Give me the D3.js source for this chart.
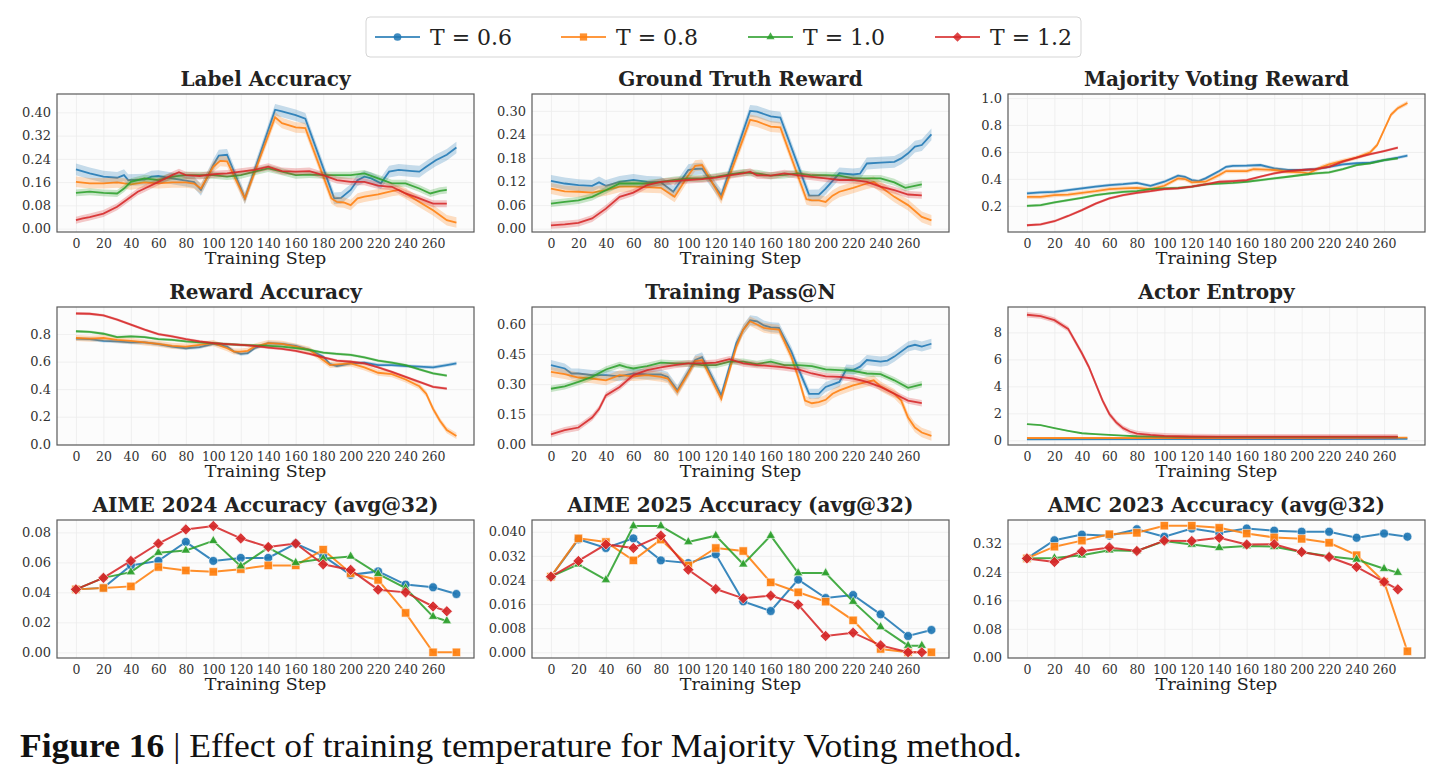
<!DOCTYPE html>
<html>
<head>
<meta charset="utf-8">
<script src="https://cdn.jsdelivr.net/npm/d3@7"></script>
<style>
  body { margin: 0; background: #fff; }
  text { font-family: "DejaVu Serif", serif; }
</style>
</head>
<body>
<div id="chart"></div>
<script>
// ---- data ----
const TEMPS = ["T = 0.6", "T = 0.8", "T = 1.0", "T = 1.2"];
const COLORS = ["#1f77b4", "#ff7f0e", "#2ca02c", "#d62728"];
const X_TICKS = [0, 20, 40, 60, 80, 100, 120, 140, 160, 180, 200, 220, 240, 260];

// training curves: [step, value]
const LABEL_ACC = [
  [[0,.204],[10,.19],[20,.179],[30,.175],[35,.184],[38,.167],[50,.169],[55,.179],[60,.181],[70,.173],[80,.165],[86,.16],[91,.133],[100,.219],[104,.251],[110,.254],[123,.104],[145,.409],[150,.403],[160,.39],[167,.378],[188,.104],[193,.106],[200,.133],[205,.167],[210,.179],[215,.173],[222,.156],[228,.196],[235,.202],[245,.198],[250,.196],[255,.213],[262,.235],[270,.254],[277,.279]],
  [[0,.161],[10,.156],[20,.156],[30,.159],[40,.152],[50,.159],[60,.156],[70,.159],[80,.159],[86,.155],[91,.138],[100,.213],[105,.233],[110,.231],[123,.104],[145,.383],[150,.363],[160,.348],[167,.346],[186,.104],[190,.092],[195,.09],[200,.081],[205,.104],[210,.11],[220,.118],[230,.129],[235,.133],[240,.121],[250,.092],[260,.063],[270,.029],[277,.021]],
  [[0,.123],[10,.127],[20,.123],[30,.121],[35,.138],[40,.161],[50,.173],[60,.167],[70,.179],[80,.184],[100,.184],[110,.179],[120,.184],[130,.196],[140,.207],[150,.196],[160,.184],[170,.186],[180,.184],[200,.184],[210,.19],[220,.173],[230,.156],[240,.156],[250,.138],[258,.121],[265,.13],[270,.133]],
  [[0,.029],[5,.035],[10,.04],[20,.052],[30,.075],[40,.11],[45,.127],[50,.138],[60,.161],[70,.184],[75,.194],[80,.184],[90,.181],[100,.187],[110,.19],[120,.196],[130,.202],[140,.213],[150,.198],[160,.196],[170,.198],[180,.184],[190,.167],[200,.161],[210,.161],[220,.148],[230,.144],[240,.121],[250,.104],[260,.086],[270,.086]]
];
const GT_REWARD = [
  [[0,.122],[10,.115],[20,.111],[30,.109],[35,.118],[40,.109],[50,.119],[60,.124],[70,.119],[80,.118],[89,.094],[100,.149],[105,.152],[110,.153],[124,.085],[145,.30],[150,.298],[160,.286],[167,.283],[188,.084],[195,.085],[200,.102],[210,.141],[220,.138],[225,.14],[230,.166],[240,.168],[250,.17],[255,.179],[260,.192],[265,.209],[270,.213],[277,.24]],
  [[0,.102],[10,.095],[20,.094],[30,.092],[40,.098],[50,.107],[60,.107],[80,.104],[90,.081],[100,.136],[105,.16],[110,.162],[124,.077],[145,.277],[150,.273],[160,.26],[167,.258],[186,.075],[190,.072],[195,.072],[200,.068],[205,.084],[210,.094],[220,.104],[230,.115],[235,.119],[240,.107],[250,.081],[260,.06],[270,.03],[277,.021]],
  [[0,.064],[10,.068],[20,.072],[30,.081],[40,.098],[50,.115],[70,.115],[80,.119],[90,.124],[100,.128],[110,.128],[120,.132],[130,.138],[140,.143],[150,.141],[160,.135],[170,.137],[180,.141],[190,.136],[200,.136],[210,.135],[220,.128],[240,.128],[250,.118],[258,.104],[270,.113]],
  [[0,.0085],[10,.011],[20,.0145],[30,.026],[40,.051],[50,.081],[60,.092],[70,.111],[80,.119],[90,.121],[100,.124],[110,.126],[120,.13],[130,.136],[140,.141],[145,.145],[150,.136],[160,.135],[170,.141],[180,.136],[190,.132],[200,.128],[210,.124],[220,.124],[230,.119],[240,.107],[250,.098],[260,.087],[270,.085]]
];
const MV_REWARD = [
  [[0,.292],[10,.30],[20,.304],[30,.317],[40,.329],[50,.342],[60,.354],[70,.361],[80,.371],[90,.349],[100,.379],[110,.424],[115,.416],[120,.391],[125,.384],[130,.404],[140,.458],[145,.49],[150,.496],[160,.498],[170,.503],[180,.478],[190,.466],[200,.466],[210,.473],[220,.49],[230,.508],[240,.516],[250,.52],[260,.54],[270,.558],[277,.573]],
  [[0,.267],[10,.267],[20,.28],[30,.284],[40,.297],[50,.309],[60,.324],[70,.329],[80,.334],[90,.324],[100,.349],[110,.404],[115,.399],[120,.374],[130,.379],[140,.429],[145,.458],[160,.458],[165,.473],[170,.47],[180,.466],[190,.453],[200,.448],[205,.441],[215,.49],[220,.508],[230,.533],[240,.558],[250,.598],[255,.652],[260,.764],[265,.876],[270,.925],[277,.963]],
  [[0,.20],[10,.205],[20,.225],[30,.242],[40,.26],[50,.28],[60,.292],[70,.304],[80,.309],[90,.324],[100,.329],[110,.334],[120,.342],[130,.359],[140,.366],[150,.371],[160,.379],[170,.391],[180,.404],[190,.416],[200,.429],[210,.441],[220,.448],[230,.473],[240,.503],[250,.516],[260,.54],[270,.553]],
  [[0,.056],[10,.063],[20,.086],[30,.125],[40,.168],[50,.217],[60,.255],[70,.28],[80,.297],[90,.309],[100,.324],[110,.329],[120,.342],[130,.359],[140,.379],[150,.384],[160,.391],[170,.416],[180,.441],[190,.458],[200,.466],[210,.473],[220,.49],[230,.528],[240,.558],[250,.583],[260,.607],[270,.632]]
];
const REWARD_ACC = [
  [[0,.766],[10,.763],[20,.751],[30,.746],[40,.739],[50,.739],[60,.727],[70,.709],[80,.697],[90,.705],[100,.729],[110,.709],[115,.673],[120,.656],[125,.661],[130,.697],[140,.734],[150,.729],[160,.714],[170,.685],[180,.636],[185,.582],[190,.568],[200,.587],[210,.592],[220,.575],[230,.575],[240,.568],[250,.563],[260,.558],[270,.575],[277,.587]],
  [[0,.771],[10,.766],[20,.771],[30,.758],[40,.751],[50,.739],[60,.729],[70,.714],[80,.709],[90,.722],[100,.734],[110,.697],[115,.673],[120,.673],[125,.678],[130,.709],[140,.734],[150,.729],[160,.709],[170,.685],[180,.612],[185,.575],[190,.58],[200,.587],[210,.558],[220,.519],[230,.509],[240,.47],[250,.421],[255,.367],[260,.257],[265,.171],[270,.103],[277,.061]],
  [[0,.82],[10,.815],[20,.802],[30,.778],[40,.783],[50,.778],[60,.763],[70,.758],[80,.746],[90,.739],[100,.734],[110,.727],[120,.722],[130,.717],[140,.714],[150,.709],[160,.697],[170,.685],[180,.665],[190,.656],[200,.648],[210,.631],[220,.607],[230,.592],[240,.575],[250,.543],[260,.514],[270,.499]],
  [[0,.949],[10,.947],[20,.935],[30,.905],[40,.868],[50,.832],[60,.80],[70,.783],[80,.763],[90,.746],[100,.734],[110,.727],[120,.722],[130,.714],[140,.702],[150,.692],[160,.678],[170,.656],[180,.631],[190,.607],[200,.599],[210,.587],[220,.558],[230,.526],[240,.489],[250,.453],[260,.416],[270,.404]]
];
const PASS_AT_N = [
  [[0,.395],[10,.378],[15,.353],[20,.353],[30,.345],[40,.345],[50,.339],[60,.353],[70,.348],[80,.348],[85,.336],[92,.269],[100,.361],[105,.42],[110,.434],[124,.244],[135,.504],[140,.571],[145,.618],[150,.613],[155,.592],[160,.583],[166,.58],[175,.462],[180,.378],[188,.252],[195,.252],[200,.286],[210,.311],[215,.373],[220,.37],[225,.387],[230,.42],[240,.412],[245,.417],[250,.437],[260,.487],[265,.496],[270,.487],[277,.501]],
  [[0,.361],[10,.35],[20,.333],[30,.328],[40,.319],[50,.345],[60,.339],[70,.345],[80,.336],[85,.328],[92,.261],[100,.353],[105,.415],[110,.42],[124,.227],[135,.487],[140,.571],[145,.613],[150,.597],[155,.58],[160,.575],[166,.571],[175,.437],[180,.336],[185,.218],[190,.205],[195,.21],[200,.222],[205,.252],[210,.269],[220,.294],[230,.311],[235,.319],[240,.289],[250,.252],[255,.218],[260,.134],[265,.084],[270,.059],[277,.042]],
  [[0,.277],[10,.289],[20,.311],[30,.336],[40,.373],[50,.395],[55,.385],[60,.378],[70,.39],[80,.407],[90,.403],[100,.403],[110,.395],[120,.395],[130,.412],[140,.412],[150,.40],[160,.412],[170,.395],[180,.395],[190,.39],[200,.373],[210,.37],[220,.366],[230,.353],[240,.35],[250,.319],[260,.282],[270,.299]],
  [[0,.05],[10,.071],[20,.084],[30,.134],[35,.176],[40,.244],[50,.286],[60,.345],[70,.37],[80,.383],[90,.395],[100,.403],[110,.403],[120,.407],[130,.424],[140,.403],[150,.395],[160,.39],[170,.383],[180,.373],[190,.353],[200,.339],[210,.336],[220,.328],[230,.311],[240,.286],[250,.252],[260,.218],[270,.205]]
];
const ACTOR_ENTROPY = [
  [[0,.07],[100,.08],[200,.09],[277,.1]],
  [[0,.17],[100,.17],[200,.18],[277,.2]],
  [[0,1.2],[10,1.12],[20,.9],[30,.7],[40,.52],[50,.45],[60,.4],[70,.35],[80,.3],[100,.27],[120,.25],[270,.25]],
  [[0,9.3],[10,9.2],[20,8.9],[30,8.25],[40,6.45],[45,5.45],[50,4.2],[55,2.95],[60,1.95],[65,1.33],[70,.9],[75,.65],[80,.5],[90,.4],[100,.33],[110,.3],[120,.28],[140,.27],[270,.27]]
];

// evaluation points
const EVAL_STEPS_LONG = [0, 20, 40, 60, 80, 100, 120, 140, 160, 180, 200, 220, 240, 260, 277];
const EVAL_STEPS_SHORT = [0, 20, 40, 60, 80, 100, 120, 140, 160, 180, 200, 220, 240, 260, 270];
const AIME24 = [
  [.042,.043,.058,.061,.0737,.061,.063,.063,.0726,.0643,.0517,.054,.0452,.0434,.0389],
  [.042,.0429,.044,.0569,.0546,.0537,.0555,.058,.058,.0685,.0528,.0483,.0263,0,0],
  [.042,.0497,.0535,.0665,.068,.0744,.0575,.0699,.0598,.0625,.064,.0524,.0429,.0238,.0209],
  [.042,.0497,.061,.0726,.082,.0843,.076,.0703,.0726,.0587,.055,.0418,.04,.0306,.0274]
];
const AIME25 = [
  [.0251,.0375,.0346,.0378,.0305,.0296,.0325,.0169,.0137,.0241,.018,.019,.0126,.0054,.0074],
  [.0251,.0378,.0366,.0305,.0374,.0288,.0346,.0336,.0232,.0199,.0168,.0106,.0011,0,0],
  [.0251,.0292,.024,.0419,.0419,.0366,.0387,.0292,.0387,.0263,.0263,.0168,.0084,.0022,.0022],
  [.0251,.0303,.0358,.0346,.0387,.0274,.021,.0179,.0188,.0158,.0054,.0065,.0023,0,0]
];
const AMC23 = [
  [.278,.329,.345,.342,.36,.339,.362,.35,.362,.356,.353,.353,.336,.348,.339],
  [.278,.311,.328,.346,.35,.37,.37,.364,.348,.337,.333,.322,.287,.212,.017],
  [.278,.279,.287,.301,.299,.327,.317,.308,.313,.311,.296,.284,.275,.249,.238],
  [.278,.268,.298,.309,.299,.328,.327,.336,.317,.318,.296,.282,.254,.212,.191]
];

const TICKS_LABEL = [0, .08, .16, .24, .32, .40];
const TICKS_GT = [0, .06, .12, .18, .24, .30];
const TICKS_MV = [.2, .4, .6, .8, 1.0];
const TICKS_RA = [0, .2, .4, .6, .8];
const TICKS_PASS = [0, .15, .30, .45, .60];
const TICKS_ENT = [0, 2, 4, 6, 8];
const TICKS_A24 = [0, .02, .04, .06, .08];
const TICKS_A25 = [0, .008, .016, .024, .032, .040];
const TICKS_AMC = [0, .08, .16, .24, .32];

// ---- layout ----
const width = 1446, height = 780;
const COL_X = [57, 532, 1008], ROW_Y = [94, 307, 520];
const PW = 417, PH = 138;

const svg = d3.select("#chart").append("svg")
  .attr("width", width).attr("height", height)
  .style("background", "#fff");

const toPts = (steps, vals) => vals.map((v, i) => [steps[i], v]);
const evalSeries = arr => arr.map((vals, i) =>
  toPts(i < 2 ? EVAL_STEPS_LONG : EVAL_STEPS_SHORT, vals));

const panels = [
  { title: "Label Accuracy", series: LABEL_ACC, ticks: TICKS_LABEL, fmt: ".2f", yd: [-0.0115, 0.463], band: [.02, .018, .012, .012] },
  { title: "Ground Truth Reward", series: GT_REWARD, ticks: TICKS_GT, fmt: ".2f", yd: [-0.0085, 0.343], band: [.015, .014, .009, .009] },
  { title: "Majority Voting Reward", series: MV_REWARD, ticks: TICKS_MV, fmt: ".1f", yd: [0.006, 1.03], band: [.012, .016, .01, .01] },
  { title: "Reward Accuracy", series: REWARD_ACC, ticks: TICKS_RA, fmt: ".1f", yd: [-0.005, 0.996], band: [.013, .022, .01, .01] },
  { title: "Training Pass@N", series: PASS_AT_N, ticks: TICKS_PASS, fmt: ".2f", yd: [-0.003, 0.684], band: [.025, .024, .016, .016] },
  { title: "Actor Entropy", series: ACTOR_ENTROPY, ticks: TICKS_ENT, fmt: "d", yd: [-0.35, 9.875], band: [.03, .03, .05, .2] },
  { title: "AIME 2024 Accuracy (avg@32)", series: evalSeries(AIME24), ticks: TICKS_A24, fmt: ".2f", yd: [-0.0038, 0.0883], marker: true },
  { title: "AIME 2025 Accuracy (avg@32)", series: evalSeries(AIME25), ticks: TICKS_A25, fmt: ".3f", yd: [-0.0019, 0.0439], marker: true },
  { title: "AMC 2023 Accuracy (avg@32)", series: evalSeries(AMC23), ticks: TICKS_AMC, fmt: ".2f", yd: [-0.002, 0.386], marker: true }
];

const SYMBOLS = [d3.symbolCircle, d3.symbolSquare, d3.symbolTriangle, d3.symbolSquare];
const SYM_SIZE = [62, 70, 38, 62];
const SYM_ROT = [0, 0, 0, 45];

function drawPanel(p, idx) {
  const col = idx % 3, row = Math.floor(idx / 3);
  const g = svg.append("g")
    .attr("transform", `translate(${COL_X[col]},${ROW_Y[row]})`);

  const x = d3.scaleLinear().domain([-13.8, 289.8]).range([0, PW]);
  const y = d3.scaleLinear().domain(p.yd).range([PH, 0]);

  g.append("rect").attr("width", PW).attr("height", PH).attr("fill", "#fcfcfc");

  // grid
  g.append("g").attr("class", "grid")
    .attr("transform", `translate(0,${PH})`)
    .call(d3.axisBottom(x).tickValues(X_TICKS).tickSize(-PH).tickFormat(""));
  g.append("g").attr("class", "grid")
    .call(d3.axisLeft(y).tickValues(p.ticks).tickSize(-PW).tickFormat(""));
  g.selectAll(".grid .domain").remove();
  g.selectAll(".grid line").attr("stroke", "#ececec").attr("stroke-width", 0.8);

  // axes labels
  const xa = g.append("g")
    .attr("transform", `translate(0,${PH})`)
    .call(d3.axisBottom(x).tickValues(X_TICKS).tickSize(0).tickPadding(7));
  const ya = g.append("g")
    .call(d3.axisLeft(y).tickValues(p.ticks).tickSize(0).tickPadding(6).tickFormat(d3.format(p.fmt)));
  xa.select(".domain").remove();
  ya.select(".domain").remove();
  xa.selectAll("text")
    .style("font-family", "DejaVu Serif")
    .style("font-size", "12.5px")
    .attr("fill", "#333");
  ya.selectAll("text")
    .style("font-family", "DejaVu Serif")
    .style("font-size", "13px")
    .attr("fill", "#333");

  const line = d3.line().x(d => x(d[0])).y(d => y(d[1]));

  p.series.forEach((s, i) => {
    if (!p.marker) {
      const w = p.band[i];
      g.append("path")
        .datum(s)
        .attr("d", d3.area().x(d => x(d[0])).y0(d => y(d[1] - w)).y1(d => y(d[1] + w)))
        .attr("fill", COLORS[i])
        .attr("opacity", 0.25);
    }
    g.append("path")
      .datum(s)
      .attr("d", line)
      .attr("fill", "none")
      .attr("stroke", COLORS[i])
      .attr("stroke-width", p.marker ? 2 : 1.8)
      .attr("opacity", 0.88);
    if (p.marker) {
      g.selectAll(null)
        .data(s)
        .enter()
        .append("path")
        .attr("d", d3.symbol().type(SYMBOLS[i]).size(SYM_SIZE[i]))
        .attr("transform", d => `translate(${x(d[0])},${y(d[1])}) rotate(${SYM_ROT[i]})`)
        .attr("fill", COLORS[i])
        .attr("stroke", "#fff")
        .attr("stroke-width", 0.6)
        .attr("opacity", 0.92);
    }
  });

  g.append("rect")
    .attr("width", PW).attr("height", PH)
    .attr("fill", "none")
    .attr("stroke", "#5a5a5a")
    .attr("stroke-width", 1.2);

  g.append("text")
    .attr("x", PW / 2).attr("y", -8)
    .attr("text-anchor", "middle")
    .style("font-size", "20px")
    .style("font-weight", "bold")
    .attr("fill", "#222")
    .text(p.title);

  g.append("text")
    .attr("x", PW / 2).attr("y", PH + 32)
    .attr("text-anchor", "middle")
    .style("font-size", "17.5px")
    .attr("fill", "#222")
    .text("Training Step");
}

panels.forEach(drawPanel);

// ---- legend ----
const legend = svg.append("g");
legend.append("rect")
  .attr("x", 366).attr("y", 17)
  .attr("width", 715).attr("height", 40)
  .attr("rx", 4)
  .attr("fill", "#fff")
  .attr("stroke", "#d5d5d5");

const LEG_X = [375, 561, 748, 935];
const items = legend.selectAll(".legend-item")
  .data(TEMPS)
  .enter()
  .append("g")
  .attr("class", "legend-item")
  .attr("transform", (d, i) => `translate(${LEG_X[i]},37)`);

items.append("line")
  .attr("x1", 0).attr("x2", 45)
  .attr("stroke", (d, i) => COLORS[i])
  .attr("stroke-width", 2)
  .attr("opacity", 0.8);

items.append("path")
  .attr("d", (d, i) => d3.symbol().type(SYMBOLS[i]).size(SYM_SIZE[i] * 0.75)())
  .attr("transform", (d, i) => `translate(22.5,0) rotate(${SYM_ROT[i]})`)
  .attr("fill", (d, i) => COLORS[i])
  .attr("opacity", 0.85);

items.append("text")
  .attr("x", 55).attr("y", 8)
  .style("font-size", "22px")
  .attr("fill", "#222")
  .text(d => d);

// ---- caption ----
const cap = svg.append("text")
  .attr("x", 20).attr("y", 757)
  .style("font-family", "Liberation Serif")
  .style("font-size", "34px")
  .attr("fill", "#111");
cap.append("tspan").style("font-weight", "bold").style("font-family", "Liberation Serif").text("Figure 16");
cap.append("tspan").style("font-family", "Liberation Serif").text(" | Effect of training temperature for Majority Voting method.");
const capW = cap.node().getComputedTextLength();
cap.attr("transform", `translate(20,0) scale(${1002 / capW},1) translate(-20,0)`);
</script>
</body>
</html>
